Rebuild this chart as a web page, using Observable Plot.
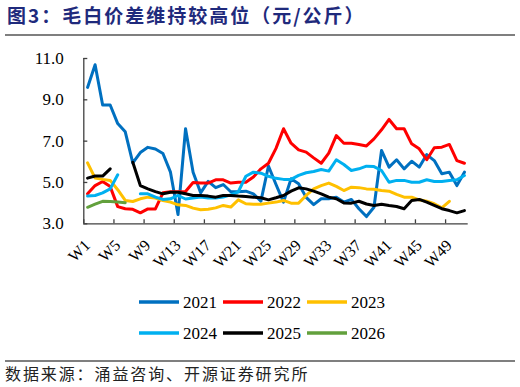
<!DOCTYPE html>
<html>
<head>
<meta charset="utf-8">
<script src="https://cdn.jsdelivr.net/npm/d3@7"></script>
<script src="https://cdn.jsdelivr.net/npm/@observablehq/plot@0.6"></script>
<style>
  html, body { margin: 0; padding: 0; background: #fff; }
  #wrap { position: relative; width: 520px; height: 387px; overflow: hidden; background: #fff; }
  #title { position: absolute; left: 7px; top: 5px; font-family: "Noto Sans CJK SC", sans-serif; font-weight: 700;
           font-size: 19px; line-height: 20px; letter-spacing: 2px; color: #1f2a7c; white-space: nowrap; }
  .hr { position: absolute; left: 5px; width: 510px; height: 2px; background: #7f7f7f; }
  #chart { position: absolute; left: 0; top: 0; }
  #legend { position: absolute; left: 130px; top: 288px; }
  #source { position: absolute; left: 5px; top: 363px; font-family: "Noto Sans CJK SC", sans-serif; font-size: 16px;
            line-height: 20px; letter-spacing: 1.9px; color: #222; white-space: nowrap; }
</style>
</head>
<body>
<div id="wrap">
  <div id="title">图3：毛白价差维持较高位（元/公斤）</div>
  <div class="hr" style="top:34px"></div>
  <div id="chart"></div>
  <div id="legend"></div>
  <div class="hr" style="top:360px"></div>
  <div id="source">数据来源：涌益咨询、开源证券研究所</div>
</div>
<script>
// ---- data ----
const weeks = d3.range(1, 52); // W1..W51
const xLabelWeeks = [1, 5, 9, 13, 17, 21, 25, 29, 33, 37, 41, 45, 49];
const yTicks = [3, 5, 7, 9, 11];
const years = ["2021", "2022", "2023", "2024", "2025", "2026"];
const colors = ["#0070c0", "#ff0000", "#ffc000", "#00b0f0", "#000000", "#62a03c"];

const s2021 = [9.6, 10.7, 8.75, 8.75, 7.85, 7.45, 5.95, 6.45, 6.7, 6.62, 6.4, 5.5, 3.45, 7.6, 5.5, 4.5, 5.05, 4.75, 4.9, 4.55,
  4.55, 4.58, 4.45, 4.1, 5.8, 4.9, 4.05, 5.18, 4.94, 4.28, 3.93, 4.21, 4.21, 4.29, 4.05, 4.18, 3.73, 3.35, 3.8, 6.55,
  5.74, 6.1, 5.66, 6.03, 5.74, 6.35, 6.06, 5.42, 5.5, 4.85, 5.5];
const s2022 = [4.45, 4.85, 5.05, 4.8, 3.83, 3.73, 3.7, 3.53, 3.72, 3.72, 4.5, 4.55, 4.55, 4.56, 5.0, 4.97, 4.97, 5.13, 5.13, 4.97,
  5.01, 5.01, 5.26, 5.66, 5.93, 6.65, 7.6, 6.9, 6.58, 6.47, 6.19, 5.93, 6.42, 7.27, 6.9, 6.9, 6.84, 6.77, 7.11, 7.55,
  8.05, 7.6, 7.6, 6.87, 6.63, 6.1, 6.68, 6.71, 6.84, 6.06, 5.93];
const s2023 = [5.95, 5.21, 5.15, 5.1, 4.65, 4.13, 4.08, 4.21, 4.29, 4.25, 4.13, 4.05, 3.92, 3.89, 3.76, 3.68, 3.7, 3.77, 3.89, 3.81,
  4.16, 3.97, 3.95, 3.95, 4.0, 4.05, 4.13, 4.0, 4.0, 4.37, 4.69, 4.85, 4.97, 4.81, 4.61, 4.77, 4.75, 4.69, 4.67, 4.61,
  4.58, 4.42, 4.29, 4.29, 4.16, 4.09, 3.97, 3.77, 4.09, null, null];
const s2024 = [4.34, 4.37, 4.5, 4.69, 5.37, null, null, 4.45, 4.45, 4.29, 4.18, 4.21, 4.37, 4.2, 4.25, 4.3, 4.25, 4.25, 4.3, 4.4,
  4.55, 5.3, 5.5, 5.45, 5.3, 5.2, 5.15, 5.15, 5.34, 5.47, 5.53, 5.63, 5.55, 6.1, 5.87, 5.58, 5.66, 5.79, 5.77, 5.58,
  5.01, 5.1, 5.1, 5.01, 5.01, 5.13, 5.05, 5.05, 5.1, 5.13, 5.34];
const s2025 = [5.21, 5.31, 5.31, 5.66, null, null, 5.98, 4.85, 4.69, 4.56, 4.45, 4.53, 4.53, 4.45, 4.37, 4.37, 4.34, 4.29, 4.37, 4.37,
  4.34, 4.32, 4.29, 4.26, 4.16, 4.26, 4.37, 4.58, 4.74, 4.69, 4.58, 4.45, 4.29, 4.21, 4.01, 4.0, 4.09, 3.96, 3.89, 3.95,
  3.89, 3.84, 3.73, 4.13, 4.18, 4.05, 3.89, 3.73, 3.64, 3.53, 3.64];
const s2026 = [3.8, 3.95, 4.09, 4.08, 4.05, 4.02];

const series = [s2021, s2022, s2023, s2024, s2025, s2026];

// ---- build long table ----
const rows = [];
years.forEach((yr, i) => {
  weeks.forEach((w, j) => {
    const v = series[i][j];
    rows.push({ year: yr, week: w, value: (v === null || v === undefined) ? NaN : v });
  });
});
const xTickBounds = xLabelWeeks.map(w => w - 0.5);

// ---- layout ----
const W = 520, H = 290;
const mL = 83.3, mR = 52.3, mT = 58, mB = 66.7;
const plotW = W - mL - mR, plotH = H - mT - mB;
const axisColor = "#404040";
const serif = "'Liberation Serif', 'Times New Roman', serif";

const chart = Plot.plot({
  width: W, height: H,
  marginLeft: mL, marginRight: mR, marginTop: mT, marginBottom: mB,
  style: { fontFamily: serif, fontSize: "17px", color: "#000", background: "transparent", overflow: "visible" },
  x: { type: "linear", domain: [0.5, 51.5] },
  y: { domain: [3, 11] },
  color: { domain: years, range: colors },
  marks: [
    Plot.axisY(yTicks, { tickSize: 0, tickPadding: 20, tickFormat: d3.format(".1f"), label: null, fontSize: 17 }),
    Plot.axisX(xLabelWeeks, { tickSize: 0, tickPadding: 19, tickRotate: -45, tickFormat: d => "W" + d, label: null, fontSize: 16 }),
    Plot.tickY(yTicks, { y: d => d, insetRight: plotW - 4, stroke: axisColor, strokeWidth: 1.3 }),
    Plot.tickX(xTickBounds, { x: d => d, insetTop: plotH - 4, stroke: axisColor, strokeWidth: 1.3 }),
    Plot.ruleY([3], { stroke: axisColor, strokeWidth: 1.3 }),
    Plot.ruleX([0.5], { stroke: axisColor, strokeWidth: 1.3 }),
    Plot.line(rows, { x: "week", y: "value", z: "year", stroke: "year", strokeWidth: 3 })
  ]
});
document.getElementById("chart").appendChild(chart);

// ---- legend (small svg) ----
const itemW = 84, rowH = 31, swW = 40;
const lsvg = d3.select("#legend").append("svg")
  .attr("width", 3 * itemW + 20).attr("height", 2 * rowH + 10)
  .style("font-family", serif).style("font-size", "17px");
const items = lsvg.selectAll("g").data(years).join("g")
  .attr("transform", (d, i) => `translate(${9 + (i % 3) * itemW},${14 + Math.floor(i / 3) * rowH})`);
items.append("line").attr("x1", 0).attr("x2", swW).attr("y1", 0).attr("y2", 0)
  .attr("stroke", (d, i) => colors[i]).attr("stroke-width", 3.5);
items.append("text").attr("x", swW + 4).attr("y", 0).attr("dy", "0.34em")
  .attr("fill", "#000").text(d => d);
</script>
</body>
</html>
